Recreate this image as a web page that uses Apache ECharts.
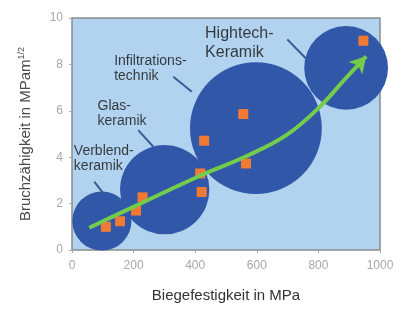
<!DOCTYPE html>
<html>
<head>
<meta charset="utf-8">
<script src="https://cdn.jsdelivr.net/npm/echarts@6/dist/echarts.min.js"></script>
<style>
  html, body { margin: 0; padding: 0; background: #fff; }
  #main { width: 410px; height: 314px; }
</style>
</head>
<body>
<div id="main"></div>
<script>
// Werkstoffgruppen: Mittelpunkt (MPa, MPam^1/2) und Streubreite in MPa
var gruppen = ['Verblendkeramik', 'Glaskeramik', 'Infiltrationstechnik', 'Hightech-Keramik'];
var gruppenX = [97, 301, 597, 890];
var gruppenY = [1.25, 2.6, 5.25, 7.85];
var gruppenBreite = [192, 290, 428, 272];

// einzelne Werkstoffe (orange Quadrate)
var werkstoffX = [110, 156, 208, 229, 416, 421, 429, 556, 565, 946];
var werkstoffY = [1.0, 1.24, 1.7, 2.27, 3.3, 2.5, 4.71, 5.86, 3.73, 9.02];

// Trendpfeil
var trendX = [56, 230, 416, 567, 697, 805, 885, 955];
var trendY = [0.96, 2.05, 3.2, 4.05, 4.96, 6.18, 7.35, 8.35];

// Beschriftungen und Hinweislinien
var labelText = ['Verblend-\nkeramik', 'Glas-\nkeramik', 'Infiltrations-\ntechnik', 'Hightech-\nKeramik'];
var labelX = [6, 83, 137, 432];
var labelY = [4.57, 6.53, 8.47, 9.75];
var leaderStart = [[72, 2.95], [215, 5.17], [329, 7.47], [699, 9.08]];
var leaderEnd = [[102, 2.44], [264, 4.45], [389, 6.82], [762, 8.22]];

var xTicks = [0, 1000, 200];
var yTicks = [0, 10, 2];

var schrift = 'Liberation Sans, Arial, sans-serif';

var chart = echarts.init(document.getElementById('main'));

var plotWidth = 410 - 72 - 30;   // px fuer 1000 MPa
var pxProMPa = plotWidth / (xTicks[1] - xTicks[0]);

var bubbleData = gruppen.map(function (n, i) {
    return { name: n, value: [gruppenX[i], gruppenY[i], gruppenBreite[i]] };
});
var squareData = werkstoffX.map(function (x, i) {
    return [x, werkstoffY[i]];
});
var trendData = trendX.map(function (x, i) {
    var d = { value: [x, trendY[i]], symbol: 'none' };
    if (i === trendX.length - 1) {
        d.symbol = 'arrow';
        d.symbolSize = [14, 16];
        d.symbolRotate = -42;
    }
    return d;
});
var labelData = labelText.map(function (t, i) {
    return {
        name: t,
        value: [labelX[i], labelY[i]],
        label: i === 3 ? { fontSize: 16, lineHeight: 19 } : {}
    };
});
var leaderData = leaderStart.map(function (s, i) {
    return { coords: [s, leaderEnd[i]] };
});

var option = {
    animation: false,
    textStyle: { fontFamily: schrift },
    grid: {
        left: 72, right: 30, top: 18, bottom: 64,
        show: true,
        backgroundColor: '#b2d3ef',
        borderColor: '#8c8c8c',
        borderWidth: 1.5
    },
    xAxis: {
        type: 'value',
        min: xTicks[0], max: xTicks[1], interval: xTicks[2],
        name: 'Biegefestigkeit in MPa',
        nameLocation: 'middle',
        nameGap: 38,
        nameTextStyle: { fontSize: 15, color: '#333', fontFamily: schrift },
        axisLine: { show: false },
        axisTick: { show: true, length: 3, lineStyle: { color: '#aaa' } },
        axisLabel: {
            color: '#a8a8a8', fontSize: 12, margin: 10,
            formatter: function (v) { return String(v); }
        },
        splitLine: { show: false }
    },
    yAxis: {
        type: 'value',
        min: yTicks[0], max: yTicks[1], interval: yTicks[2],
        name: 'Bruchzähigkeit in MPam{sup|1/2}',
        nameLocation: 'middle',
        nameGap: 38,
        nameTextStyle: {
            fontSize: 15, color: '#4a4a4a', fontWeight: 400, fontFamily: schrift,
            rich: {
                sup: { fontSize: 9, color: '#4a4a4a', fontWeight: 400, fontFamily: schrift, verticalAlign: 'top', padding: [0, 0, 8, 0] }
            }
        },
        axisLine: { show: false },
        axisTick: { show: true, length: 3, lineStyle: { color: '#aaa' } },
        axisLabel: { color: '#a8a8a8', fontSize: 12, margin: 9 },
        splitLine: { show: false }
    },
    series: [
        {
            type: 'scatter',
            name: 'Gruppen',
            data: bubbleData,
            clip: false,
            symbolSize: function (v) { return v[2] * pxProMPa; },
            itemStyle: { color: '#3157a8', opacity: 1 },
            z: 2
        },
        {
            type: 'lines',
            coordinateSystem: 'cartesian2d',
            data: leaderData,
            lineStyle: { color: '#3a5a96', width: 2, opacity: 1 },
            z: 3
        },
        {
            type: 'scatter',
            name: 'Werkstoffe',
            data: squareData,
            symbol: 'rect',
            symbolSize: 10,
            itemStyle: { color: '#f07a34', opacity: 1 },
            z: 4
        },
        {
            type: 'line',
            name: 'Trend',
            data: trendData,
            smooth: 0.4,
            showSymbol: true,
            lineStyle: { color: '#74cc4c', width: 4 },
            itemStyle: { color: '#74cc4c' },
            z: 5
        },
        {
            type: 'scatter',
            name: 'Beschriftung',
            data: labelData,
            symbolSize: 0,
            label: {
                show: true,
                position: [0, 0],
                align: 'left',
                verticalAlign: 'top',
                formatter: '{b}',
                fontSize: 14,
                lineHeight: 15,
                color: '#111'
            },
            z: 6
        }
    ]
};

chart.setOption(option);
</script>
</body>
</html>
